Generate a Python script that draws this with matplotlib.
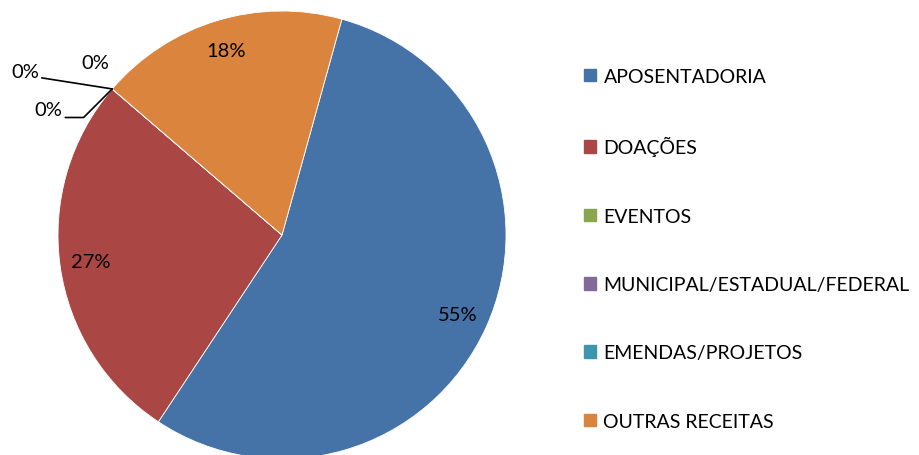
import numpy as np
import matplotlib.pyplot as plt

plt.rcParams['font.family'] = ['Lato', 'DejaVu Sans']

categorias = ["APOSENTADORIA", "DOAÇÕES", "EVENTOS",
              "MUNICIPAL/ESTADUAL/FEDERAL", "EMENDAS/PROJETOS", "OUTRAS RECEITAS"]
valores = [55, 27, 0, 0, 0, 18]
cores = ["#4572A7", "#AA4643", "#89A54E", "#80699B", "#3D96AE", "#DB843D"]

fig = plt.figure(figsize=(9.2, 4.56), dpi=100)
ax = fig.add_axes([58 / 920, -4 / 456, 448 / 920, 448 / 456])

wedges, _ = ax.pie(valores, colors=cores, startangle=74.5, counterclock=False,
                   radius=1.0, wedgeprops=dict(linewidth=0.6, edgecolor="white"))
ax.set_xlim(-1, 1)
ax.set_ylim(-1, 1)
ax.set_aspect("equal")
ax.axis("off")

fs = 14.5
total = sum(valores)
# rótulos dentro das fatias
for w, v in zip(wedges, valores):
    if v == 0:
        continue
    ang = np.radians((w.theta1 + w.theta2) / 2)
    r = 0.86
    ax.text(r * np.cos(ang), r * np.sin(ang), f"{round(100 * v / total)}%",
            ha="center", va="center", fontsize=fs)

# rótulos das fatias de 0%
ponta = np.radians(wedges[2].theta1)
px, py = np.cos(ponta), np.sin(ponta)
ax.annotate("0%", xy=(px, py), xytext=(-1.085, 0.728), fontsize=fs,
            ha="right", va="center",
            arrowprops=dict(arrowstyle="-", color="black", lw=1.2,
                            connectionstyle="arc3,rad=0", shrinkA=0, shrinkB=0,
                            relpos=(1.1, 0.15)))
ax.text(-0.835, 0.768, "0%", fontsize=fs, ha="center", va="center")
ax.annotate("0%", xy=(px, py), xytext=(-0.98, 0.5625), fontsize=fs,
            ha="right", va="center",
            arrowprops=dict(arrowstyle="-", color="black", lw=1.2,
                            connectionstyle="angle,angleA=0,angleB=45,rad=0",
                            shrinkA=0, shrinkB=0, relpos=(1.1, 0.0)))

handles = [plt.Rectangle((0, 0), 1, 1, color=c) for c in cores]
fig.legend(handles, categorias, loc="upper left", bbox_to_anchor=(584 / 920, 1 - 69 / 456),
           frameon=False, fontsize=14, handlelength=0.62, handleheight=0.62,
           handletextpad=0.38, labelspacing=2.64, borderaxespad=0, borderpad=0)

fig.savefig("out.png", dpi=100)
